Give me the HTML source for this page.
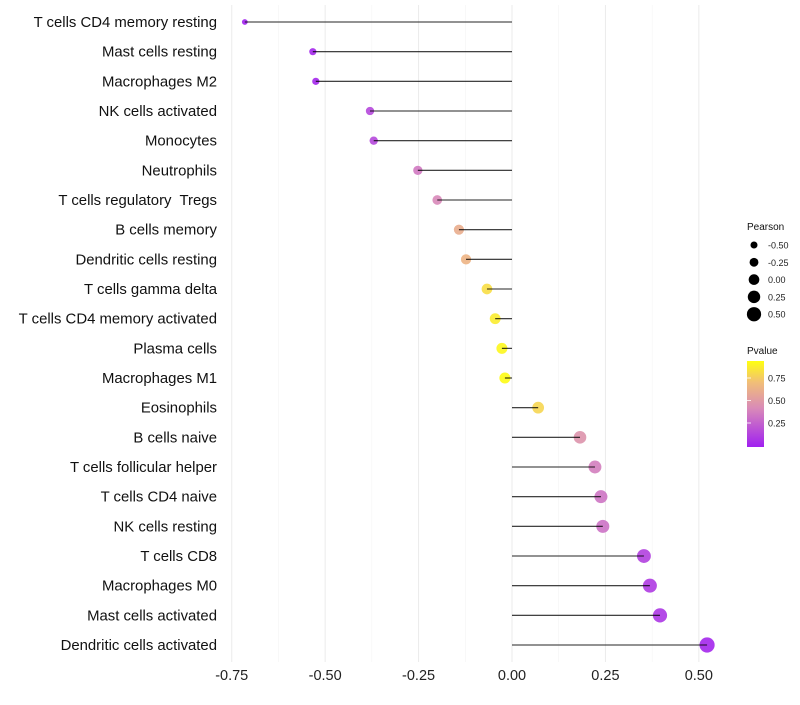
<!DOCTYPE html>
<html><head><meta charset="utf-8"><style>
body{margin:0;background:#fff;font-family:"Liberation Sans",sans-serif}
svg text{font-family:"Liberation Sans",sans-serif;white-space:pre}
</style></head><body>
<svg id="chart" width="800" height="700" xmlns="http://www.w3.org/2000/svg">
<defs><linearGradient id="pg" x1="0" y1="1" x2="0" y2="0">
<stop offset="0" stop-color="#A020F0"/><stop offset="0.45" stop-color="#D98AB8"/><stop offset="0.75" stop-color="#F1BE78"/><stop offset="1" stop-color="#FFFF10"/>
</linearGradient></defs>
<g id="grid"></g><g id="marks"></g><g id="ylabels"></g><g id="xlabels"></g><g id="legend"></g>
</svg>
<script>
const categories=["T cells CD4 memory resting","Mast cells resting","Macrophages M2","NK cells activated","Monocytes","Neutrophils","T cells regulatory  Tregs","B cells memory","Dendritic cells resting","T cells gamma delta","T cells CD4 memory activated","Plasma cells","Macrophages M1","Eosinophils","B cells naive","T cells follicular helper","T cells CD4 naive","NK cells resting","T cells CD8","Macrophages M0","Mast cells activated","Dendritic cells activated"];
const pearson=[-0.715,-0.533,-0.525,-0.38,-0.37,-0.252,-0.2,-0.142,-0.123,-0.067,-0.045,-0.027,-0.019,0.07,0.182,0.222,0.238,0.243,0.353,0.369,0.396,0.522];
const pvalue=[0.01,0.03,0.03,0.16,0.16,0.36,0.42,0.62,0.66,0.83,0.88,0.92,0.94,0.8,0.48,0.38,0.34,0.33,0.13,0.11,0.09,0.03];
const xTicks=[-0.75,-0.5,-0.25,0,0.25,0.5];
const xTickLabels=["-0.75","-0.50","-0.25","0.00","0.25","0.50"];
const sizeLegend=[-0.5,-0.25,0,0.25,0.5];
const sizeLegendLabels=["-0.50","-0.25","0.00","0.25","0.50"];
const pTicks=[0.25,0.5,0.75];
const pTickLabels=["0.25","0.50","0.75"];

const NS="http://www.w3.org/2000/svg";
const x=v=>512+v*373.7;
const y=i=>22+i*29.667;
const r=v=>Math.max(1.8,5.6+3.8*v);
const stops=[[0,[160,32,240]],[0.45,[217,138,184]],[0.75,[241,190,120]],[1,[255,255,16]]];
function col(p){const t=Math.min(1,Math.max(0,p/0.95));for(let k=1;k<stops.length;k++){if(t<=stops[k][0]){const a=stops[k-1],b=stops[k],f=(t-a[0])/(b[0]-a[0]);return "rgb("+a[1].map((c,j)=>Math.round(c+(b[1][j]-c)*f)).join(",")+")";}}return "rgb(255,255,16)";}
function mk(tag,attrs,parent){const e=document.createElementNS(NS,tag);for(const k in attrs)e.setAttribute(k,attrs[k]);parent.appendChild(e);return e;}
const grid=document.getElementById('grid'),marks=document.getElementById('marks'),yl=document.getElementById('ylabels'),xl=document.getElementById('xlabels'),lg=document.getElementById('legend');
for(let v=-0.875;v<=0.626;v+=0.125){const gx=x(v);if(gx<225||gx>725)continue;const major=Math.abs(v*4-Math.round(v*4))<1e-6;
const l=mk('line',{x1:gx,x2:gx,y1:5,y2:662,stroke:major?'#EBEBEB':'#F4F4F4','stroke-width':major?1:0.6},grid);

}
xTicks.forEach((v,i)=>{const t=mk('text',{x:x(v),y:680,'text-anchor':'middle','font-size':14.5,fill:'#222'},xl);t.textContent=xTickLabels[i];

});
categories.forEach((c,i)=>{const t=mk('text',{x:217,y:y(i)+5,'text-anchor':'end','font-size':14.9,fill:'#111'},yl);t.textContent=c;


const cc=mk('circle',{cx:x(pearson[i]),cy:y(i),r:r(pearson[i]),fill:col(pvalue[i]),'fill-opacity':0.9},marks);


const ln=mk('line',{x1:x(0),x2:x(pearson[i]),y1:y(i),y2:y(i),stroke:'#000','stroke-opacity':0.85,'stroke-width':1.1},marks);

});
let t=mk('text',{x:747,y:230,'font-size':10,fill:'#111'},lg);t.textContent='Pearson';


sizeLegend.forEach((v,i)=>{const cy=245+i*17.3;const c=mk('circle',{cx:754,cy:cy,r:r(v)*0.95,fill:'#000'},lg);


const tt=mk('text',{x:768,y:cy+3.5,'font-size':9,fill:'#222'},lg);tt.textContent=sizeLegendLabels[i];

});
t=mk('text',{x:747,y:354,'font-size':10,fill:'#111'},lg);t.textContent='Pvalue';


const bar=mk('rect',{x:747,y:361,width:17,height:86,fill:'url(#pg)'},lg);


pTicks.forEach((p,i)=>{const py=445.5-p*90;const tt=mk('text',{x:768,y:py+3.5,'font-size':9,fill:'#222'},lg);tt.textContent=pTickLabels[i];


const tk=mk('line',{x1:747,x2:751,y1:py,y2:py,stroke:'#fff','stroke-width':0.8},lg);

});
</script>
</body></html>
